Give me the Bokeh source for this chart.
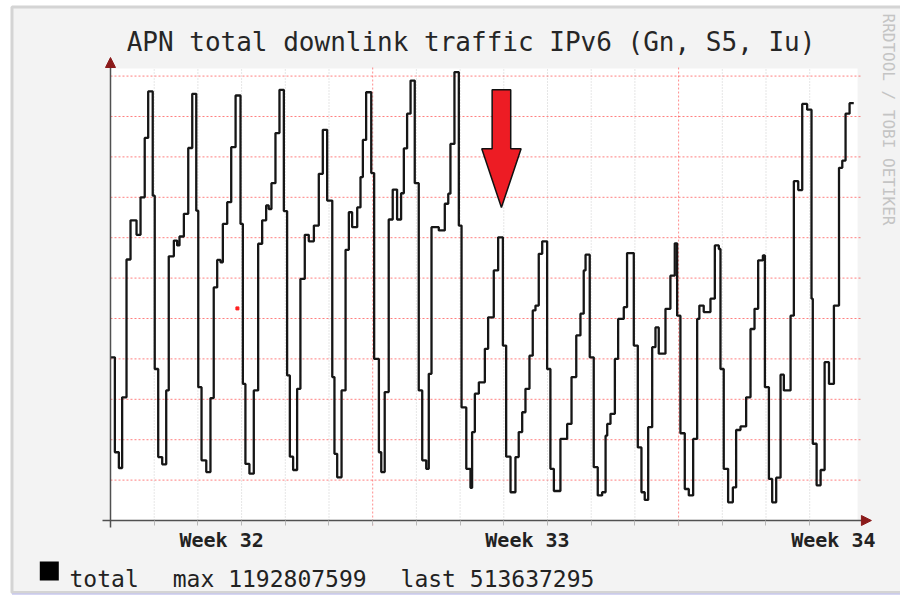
import math
from bokeh.plotting import figure
from bokeh.models import (Range1d, FixedTicker, LinearAxis, Label, BoxAnnotation,
                          Arrow, NormalHead)
from bokeh.embed import file_html
from bokeh.resources import INLINE

# ---------------- data (hours since start of period, traffic in M units) ----
TITLE = "APN total downlink traffic IPv6 (Gn, S5, Iu)"
WEEK_LABELS = ["Week 32", "Week 33", "Week 34"]
WEEK_LABEL_HOURS = [61, 229, 397]
LEGEND_NAME = "total"
MAX_VALUE = 1192807599
LAST_VALUE = 513637295
WATERMARK = "RRDTOOL / TOBI OETIKER"

SEG1_HOURS = [0, 2.4, 4.6, 6.4, 8.8, 11.0, 14.3, 16.5, 18.8, 20.7, 23.2,
              24.3, 26.2, 28.4, 30.6, 32.0, 34.8, 36.6, 37.9, 40.3, 42.7, 44.9, 47.1,
              48.2, 50.0, 52.6, 54.9, 56.7, 58.6, 60.4, 61.7, 64.1, 66.3, 68.7, 71.4,
              72.7, 74.1, 76.3, 78.7, 81.1, 83.3, 85.5, 86.9, 88.4, 90.6, 92.8, 95.2,
              97.0, 98.5, 100.3, 102.5, 104.3, 106.7, 108.9, 111.7, 114.4, 116.6, 119.0,
              121.8, 123.0, 124.5, 126.9, 129.1, 130.9, 132.7, 135.5, 137.3, 138.6, 140.4, 143.2]
SEG1_VALUES = [404, 169, 130, 305, 646, 743, 707, 800, 947, 1062, 804,
               375, 157, 139, 322, 654, 693, 681, 703, 759, 922, 1056, 767,
               330, 149, 120, 303, 577, 645, 639, 734, 788, 924, 1052, 734,
               338, 140, 116, 322, 685, 743, 780, 771, 835, 959, 1066, 766,
               359, 158, 125, 326, 598, 707, 691, 730, 858, 967, 792,
               355, 165, 107, 322, 670, 763, 726, 775, 850, 942, 1060, 860]

SEG2_HOURS = [144.8, 147.4, 148.7, 150.6, 152.8, 155.0, 157.4, 159.6, 161.1, 162.9, 164.8, 167.1,
              169.3, 171.2, 173.4, 174.8, 176.3, 180.3, 183.6, 185.5, 186.7, 188.9, 191.3,
              192.8, 195.4, 197.7, 198.6, 200.1, 202.3, 205.6, 207.4, 210.5, 212.9, 215.5,
              217.3, 219.7, 222.4, 224.2, 226.1, 227.9, 230.1, 231.9, 233.4, 235.2, 237.1, 239.8,
              241.6, 243.5, 247.1, 250.8, 253.2, 255.8, 258.1, 259.9, 260.9, 263.2,
              265.4, 267.6, 270.0, 271.9, 272.8, 274.6, 277.0, 278.8, 281.9, 283.7, 287.4,
              289.6, 291.6, 293.4, 295.3, 297.5, 299.3, 301.1, 304.8, 307.5, 309.9]
SEG2_VALUES = [400, 169, 120, 318, 745, 819, 745, 810, 921, 1007, 1089, 835,
               322, 149, 128, 363, 726, 718, 784, 809, 932, 1110, 730,
               280, 128, 81, 219, 314, 342, 425, 503, 619, 701, 433,
               158, 70, 157, 219, 268, 326, 408, 520, 532, 660, 691, 375,
               128, 73, 202, 239, 355, 458, 512, 619, 658, 404,
               132, 62, 70, 210, 239, 264, 400, 499, 528, 662, 433,
               181, 70, 51, 231, 429, 478, 413, 524, 606, 686]

SEG3_HOURS = [311.2, 313.0, 315.4, 317.6, 320.0, 322.2, 323.4, 325.8, 329.5, 331.9, 334.1,
              335.0, 336.8, 339.2, 341.8, 343.6, 346.0, 349.1, 351.5, 353.7, 355.7, 358.3,
              359.4, 361.6, 363.4, 365.6, 368.0, 369.8, 373.5, 375.3, 377.7, 379.9, 382.6,
              385.0, 385.7, 387.8, 390.0, 392.2, 394.6, 397.3, 400.1, 401.9, 403.7, 405.9, 408.2]
SEG3_VALUES = [507, 216, 78, 62, 202, 499, 532, 516, 549, 681, 672,
               375, 128, 45, 82, 224, 233, 305, 474, 524, 644, 656,
               330, 103, 45, 106, 361, 322, 507, 840, 818, 1031, 1017,
               549, 190, 87, 125, 392, 338, 532, 873, 891, 1007, 1033, 1033]

DAY_HOURS = [24 * k for k in range(1, 17)]
WEEK_START_HOURS = [144, 312]
VALUE_GRID = [100 * k for k in range(1, 12)]

# stray red mark in the plot area
DOT_HOUR, DOT_VALUE = 69.7, 525

# red marker arrow (tip position, shaft top, head base, half widths)
ARROW_TIP = (214.7, 775)
ARROW_SHAFT_TOP = 1066
ARROW_HEAD_BASE = 920
ARROW_HEAD_HALF = 10.8
ARROW_SHAFT_HALF = 5.1

# ---------------- layout ------------------------------------------------------
X_END = 410.3            # right end of the plotting area
Y_TOP = 1118.8           # top of the plotting area
X_VIEW = (-60.41, 433.87)
Y_VIEW = (-185.6, 1287.1)

p = figure(width=900, height=595, output_backend="svg", toolbar_location=None,
           x_range=Range1d(*X_VIEW), y_range=Range1d(*Y_VIEW),
           x_axis_type=None, y_axis_type=None,
           min_border_left=0, min_border_right=0, min_border_top=0, min_border_bottom=0)
p.background_fill_color = "white"
p.border_fill_color = "white"
p.outline_line_color = None
p.xgrid.visible = False
p.ygrid.visible = False

MONO = "DejaVu Sans Mono"

# grey graph panel with its border
p.quad(left=[-54.1], right=[445], bottom=[-178.2], top=[1271.0],
       fill_color="#F3F3F3", line_color="#D4D4D4", line_width=3)
p.segment(x0=[-54.1], x1=[445], y0=[-182.0], y1=[-182.0], line_color="#C9C9EE", line_width=1.5)
# white plotting area
p.quad(left=[0], right=[X_END], bottom=[0], top=[Y_TOP], fill_color="white", line_color=None)

# grid lines
GRID_RIGHT = 411.9
GRID_TOP = 1121.3
p.segment(x0=[0] * len(VALUE_GRID), x1=[GRID_RIGHT] * len(VALUE_GRID),
          y0=VALUE_GRID, y1=VALUE_GRID, line_color="#FF0000", line_alpha=0.5,
          line_dash="2 2", line_width=1)
day_minor = [d for d in DAY_HOURS if d not in WEEK_START_HOURS]
p.segment(x0=day_minor, x1=day_minor, y0=[0] * len(day_minor), y1=[GRID_TOP] * len(day_minor),
          line_color="#909090", line_alpha=0.45, line_dash="1 2", line_width=1)
p.segment(x0=WEEK_START_HOURS, x1=WEEK_START_HOURS, y0=[-12.4] * 2, y1=[GRID_TOP] * 2,
          line_color="#FF0000", line_alpha=0.45, line_dash="2 2", line_width=1)

# axes drawn at fixed positions inside the canvas
xaxis = LinearAxis(fixed_location=0, bounds=(-4.6, X_END + 2.5),
                   ticker=FixedTicker(ticks=WEEK_LABEL_HOURS, minor_ticks=DAY_HOURS))
xaxis.major_label_overrides = {h: lab for h, lab in zip(WEEK_LABEL_HOURS, WEEK_LABELS)}
xaxis.major_tick_line_color = None
xaxis.minor_tick_line_color = "#b8b8b8"
xaxis.minor_tick_in = 0
xaxis.minor_tick_out = 5
xaxis.axis_line_color = "#505050"
xaxis.axis_line_width = 1.5
xaxis.major_label_text_font = MONO
xaxis.major_label_text_font_size = "20px"
xaxis.major_label_text_font_style = "bold"
xaxis.major_label_text_color = "#222222"
xaxis.major_label_standoff = 1
p.add_layout(xaxis, "below")

yaxis = LinearAxis(fixed_location=0, bounds=(-16.5, Y_TOP + 10),
                   ticker=FixedTicker(ticks=VALUE_GRID))
yaxis.major_label_text_color = None
yaxis.major_tick_line_color = None
yaxis.minor_tick_line_color = None
yaxis.axis_line_color = "#505050"
yaxis.axis_line_width = 1.5
p.add_layout(yaxis, "left")

# axis arrow heads
ARROW_COLOR = "#8B1A1A"
p.add_layout(Arrow(x_start=X_END + 2.5, y_start=0, x_end=417.9, y_end=0,
                   line_color="#505050", line_width=1.5,
                   end=NormalHead(size=10, fill_color=ARROW_COLOR, line_color=ARROW_COLOR)))
p.add_layout(Arrow(x_start=0, y_start=Y_TOP + 10, x_end=0, y_end=1146.0,
                   line_color="#505050", line_width=1.5,
                   end=NormalHead(size=10, fill_color=ARROW_COLOR, line_color=ARROW_COLOR)))

# data line
hours = SEG1_HOURS + SEG2_HOURS + SEG3_HOURS
values = SEG1_VALUES + SEG2_VALUES + SEG3_VALUES
p.step(hours, values, mode="after", line_color="#161616", line_width=2.3)

p.scatter([DOT_HOUR], [DOT_VALUE], marker="square", size=3, color="#ff2020")

# red marker arrow
tx, ty = ARROW_TIP
ax = [tx - ARROW_SHAFT_HALF, tx + ARROW_SHAFT_HALF, tx + ARROW_SHAFT_HALF,
      tx + ARROW_HEAD_HALF, tx, tx - ARROW_HEAD_HALF, tx - ARROW_SHAFT_HALF]
ay = [ARROW_SHAFT_TOP, ARROW_SHAFT_TOP, ARROW_HEAD_BASE, ARROW_HEAD_BASE, ty,
      ARROW_HEAD_BASE, ARROW_HEAD_BASE]
p.patch(ax, ay, fill_color="#ED1C24", line_color="#111111", line_width=1.5)

# texts
p.add_layout(Label(x=198.0, y=1183.9, text=TITLE, text_align="center",
                   text_baseline="alphabetic", text_font=MONO,
                   text_font_size="26px", text_color="#262626"))
p.add_layout(Label(x=427.2, y=1254.9, text=WATERMARK, angle=-math.pi / 2,
                   text_align="left", text_baseline="middle", text_font=MONO,
                   text_font_size="16px", text_color="#c4c4c4"))

p.add_layout(BoxAnnotation(left=-38.83, right=-28.39, bottom=-148.5, top=-101.5,
                           fill_color="black", fill_alpha=1, line_color=None))
for xh, txt in [(-22.5, LEGEND_NAME), (34.2, f"max {MAX_VALUE}"), (159.3, f"last {LAST_VALUE}")]:
    p.add_layout(Label(x=xh, y=-144.8, text=txt, text_align="left",
                       text_baseline="alphabetic", text_font=MONO,
                       text_font_size="23px", text_color="#222222"))

open("out.html", "w").write(file_html(p, INLINE))
